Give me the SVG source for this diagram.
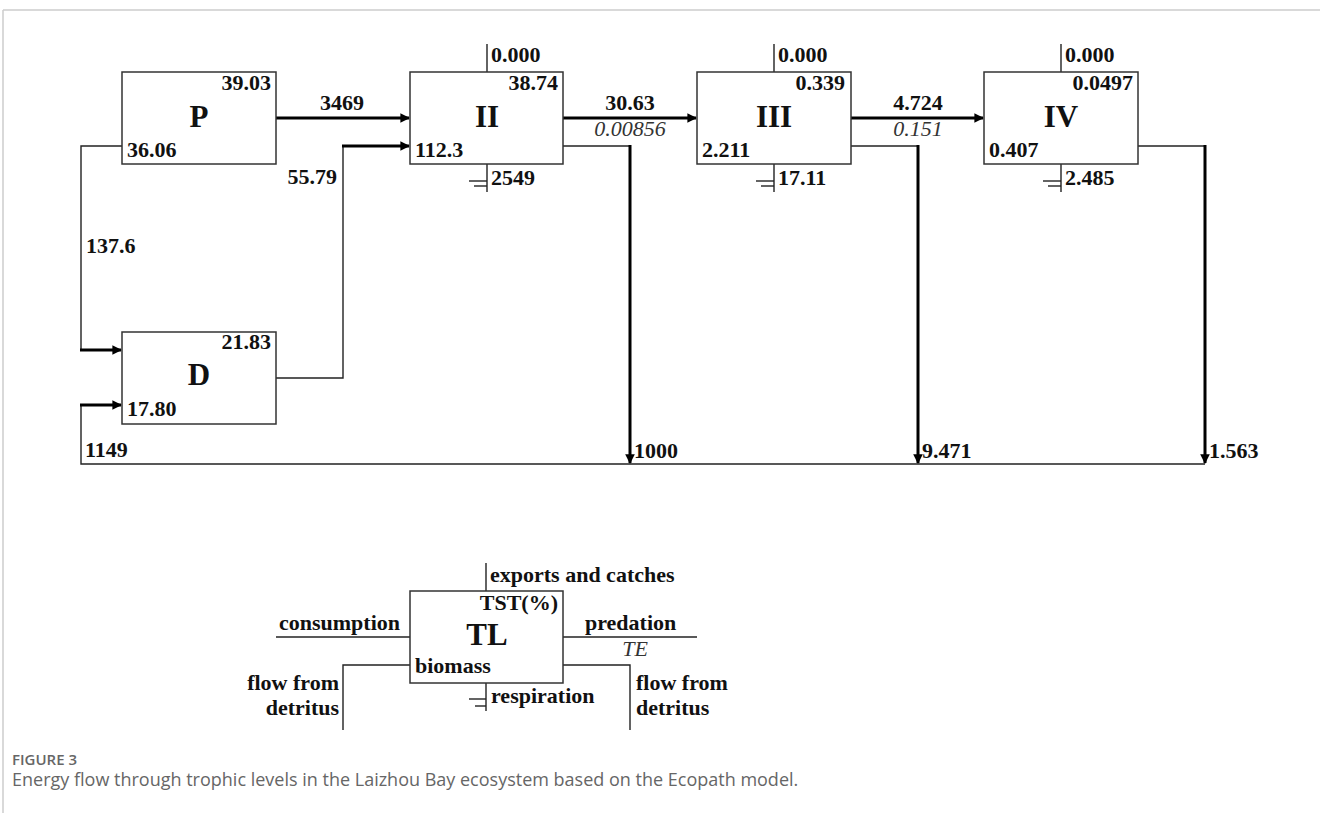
<svg xmlns="http://www.w3.org/2000/svg" width="1320" height="813" viewBox="0 0 1320 813">
<defs>
<marker id="arr" viewBox="0 0 10 10" refX="9" refY="5" markerWidth="3.2" markerHeight="3.2" orient="auto" markerUnits="strokeWidth">
<path d="M0,0 L10,5 L0,10 Z" fill="#000"/>
</marker>
<style>
.box{fill:#fff;stroke:#333;stroke-width:1.5}
.thin{fill:none;stroke:#222;stroke-width:1.4}
.thick{fill:none;stroke:#000;stroke-width:3}
.num{font-family:"Liberation Serif","Times New Roman",serif;font-weight:bold;font-size:22px;fill:#111}
.ital{font-family:"Liberation Serif","Times New Roman",serif;font-style:italic;font-size:22px;fill:#333}
.title{font-family:"Liberation Serif","Times New Roman",serif;font-weight:bold;font-size:31px;fill:#111;text-anchor:middle}
.mid{text-anchor:middle}
.end{text-anchor:end}
.cap1{font-family:"Open Sans","Noto Sans",sans-serif;font-size:15px;font-weight:600;fill:#666}
.cap2{font-family:"Open Sans","Noto Sans",sans-serif;font-size:18px;fill:#666}
</style>
</defs>
<rect width="1320" height="813" fill="#fff"/>
<g id="frame">
<line x1="3" y1="10" x2="1320" y2="10" stroke="#ccc" stroke-width="1.5"/>
<line x1="3" y1="10" x2="3" y2="813" stroke="#ccc" stroke-width="1.5"/>
</g>
<g id="connectors">
<line class="thick" x1="276" y1="118" x2="409" y2="118" marker-end="url(#arr)"/>
<text class="num mid" x="342" y="110">3469</text>
<polyline class="thin" points="122,146 81,146 81,350"/>
<line class="thick" x1="80" y1="350" x2="121" y2="350" marker-end="url(#arr)"/>
<text class="num" x="86" y="253">137.6</text>
<polyline class="thin" points="276,378 343,378 343,146"/>
<line class="thick" x1="342" y1="146" x2="409" y2="146" marker-end="url(#arr)"/>
<text class="num end" x="337" y="184">55.79</text>
<polyline class="thin" points="1205,464 81,464 81,405"/>
<line class="thick" x1="80" y1="405" x2="121" y2="405" marker-end="url(#arr)"/>
<text class="num" x="85" y="457">1149</text>
<line class="thick" x1="563" y1="118" x2="696" y2="118" marker-end="url(#arr)"/>
<text class="num mid" x="630" y="110">30.63</text>
<text class="ital mid" x="630" y="136">0.00856</text>
<polyline class="thin" points="563,146 630,146"/>
<line class="thick" x1="630" y1="145" x2="630" y2="463" marker-end="url(#arr)"/>
<text class="num" x="634" y="458">1000</text>
<line class="thick" x1="851" y1="118" x2="983" y2="118" marker-end="url(#arr)"/>
<text class="num mid" x="918" y="110">4.724</text>
<text class="ital mid" x="918" y="136">0.151</text>
<polyline class="thin" points="851,146 918,146"/>
<line class="thick" x1="918" y1="145" x2="918" y2="463" marker-end="url(#arr)"/>
<text class="num" x="922" y="458">9.471</text>
<polyline class="thin" points="1138,146 1205,146"/>
<line class="thick" x1="1205" y1="145" x2="1205" y2="463" marker-end="url(#arr)"/>
<text class="num" x="1209" y="458">1.563</text>
<line class="thin" x1="487" y1="44" x2="487" y2="72"/>
<text class="num" x="491" y="62">0.000</text>
<polyline class="thin" points="487,164 487,192"/>
<line class="thin" x1="469" y1="181" x2="487" y2="181"/>
<line class="thin" x1="474" y1="186" x2="487" y2="186"/>
<text class="num" x="491" y="185">2549</text>
<line class="thin" x1="774" y1="44" x2="774" y2="72"/>
<text class="num" x="778" y="62">0.000</text>
<polyline class="thin" points="774,164 774,192"/>
<line class="thin" x1="756" y1="181" x2="774" y2="181"/>
<line class="thin" x1="761" y1="186" x2="774" y2="186"/>
<text class="num" x="778" y="185">17.11</text>
<line class="thin" x1="1061" y1="44" x2="1061" y2="72"/>
<text class="num" x="1065" y="62">0.000</text>
<polyline class="thin" points="1061,164 1061,192"/>
<line class="thin" x1="1043" y1="181" x2="1061" y2="181"/>
<line class="thin" x1="1048" y1="186" x2="1061" y2="186"/>
<text class="num" x="1065" y="185">2.485</text>
</g>
<g id="node-P">
<rect class="box" x="122" y="72" width="154" height="92"/>
<text class="num end" x="271" y="90">39.03</text>
<text class="title" x="199" y="127">P</text>
<text class="num" x="127" y="157">36.06</text>
</g>
<g id="node-D">
<rect class="box" x="122" y="332" width="154" height="92"/>
<text class="num end" x="271" y="349">21.83</text>
<text class="title" x="199" y="385">D</text>
<text class="num" x="127" y="416">17.80</text>
</g>
<g id="node-II">
<rect class="box" x="410" y="72" width="153" height="92"/>
<text class="num end" x="558" y="90">38.74</text>
<text class="title" x="487" y="127">II</text>
<text class="num" x="415" y="157">112.3</text>
</g>
<g id="node-III">
<rect class="box" x="697" y="72" width="154" height="92"/>
<text class="num end" x="845" y="90">0.339</text>
<text class="title" x="774" y="127">III</text>
<text class="num" x="702" y="157">2.211</text>
</g>
<g id="node-IV">
<rect class="box" x="984" y="72" width="154" height="92"/>
<text class="num end" x="1133" y="90">0.0497</text>
<text class="title" x="1061" y="127">IV</text>
<text class="num" x="989" y="157">0.407</text>
</g>
<g id="legend">
<line class="thin" x1="486" y1="563" x2="486" y2="591"/>
<text class="num" x="490" y="582">exports and catches</text>
<line class="thin" x1="276" y1="637" x2="410" y2="637"/>
<text class="num end" x="400" y="630">consumption</text>
<line class="thin" x1="563" y1="637" x2="697" y2="637"/>
<text class="num" x="585" y="630">predation</text>
<text class="ital mid" x="635" y="656">TE</text>
<polyline class="thin" points="410,665 343,665 343,730"/>
<text class="num end" x="339" y="690">flow from</text>
<text class="num end" x="339" y="715">detritus</text>
<polyline class="thin" points="563,665 630,665 630,730"/>
<text class="num" x="636" y="690">flow from</text>
<text class="num" x="636" y="715">detritus</text>
<line class="thin" x1="486" y1="683" x2="486" y2="711"/>
<line class="thin" x1="469" y1="699" x2="486" y2="699"/>
<line class="thin" x1="475" y1="706" x2="486" y2="706"/>
<text class="num" x="491" y="703">respiration</text>
<g id="node-TL">
<rect class="box" x="410" y="591" width="153" height="92"/>
<text class="num end" x="558" y="610">TST(%)</text>
<text class="title" x="487" y="645">TL</text>
<text class="num" x="415" y="673">biomass</text>
</g>
</g>
<g id="caption">
<text class="cap1" x="12" y="765">FIGURE 3</text>
<text class="cap2" x="12" y="786">Energy flow through trophic levels in the Laizhou Bay ecosystem based on the Ecopath model.</text>
</g>
</svg>
